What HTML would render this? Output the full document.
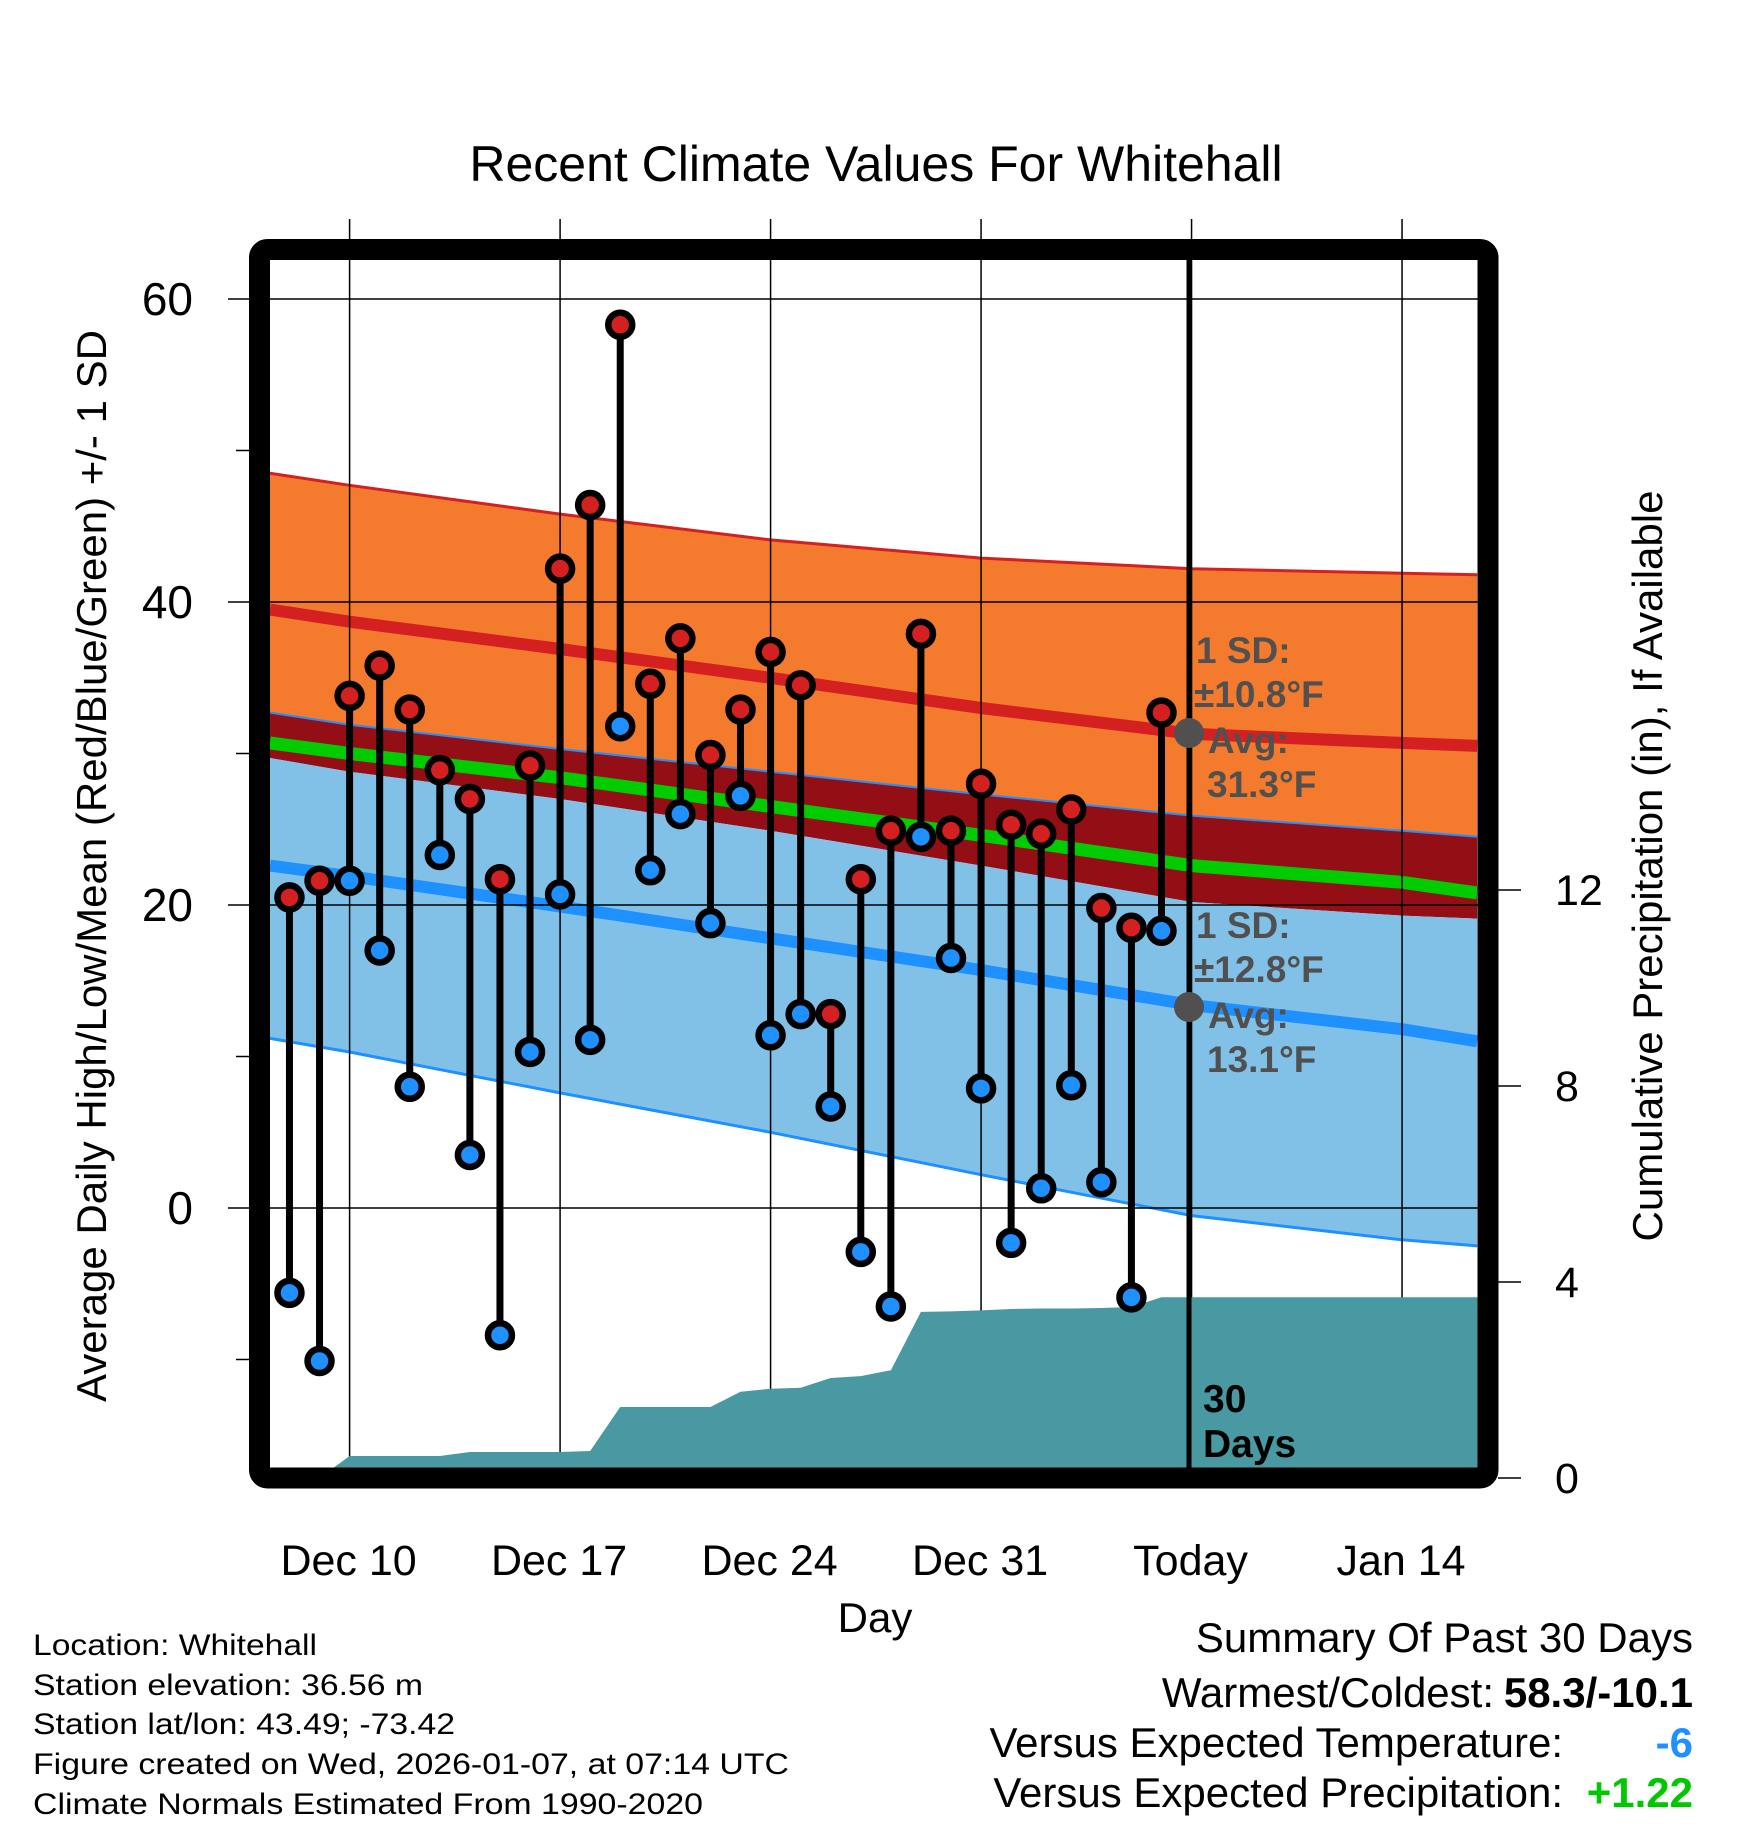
<!DOCTYPE html>
<html><head><meta charset="utf-8"><style>
html,body{margin:0;padding:0;background:#fff;}
svg{display:block;font-family:"Liberation Sans",Arial,sans-serif;}
</style></head><body>
<svg id="chart" width="1748" height="1828" viewBox="0 0 1748 1828" xmlns="http://www.w3.org/2000/svg">
<defs><clipPath id="plotClip"><rect x="270" y="260" width="1208" height="1208"/></clipPath></defs>
<rect x="0" y="0" width="1748" height="1828" fill="#fff"/>
<text x="876" y="181" font-size="50" text-anchor="middle">Recent Climate Values For Whitehall</text>
<g id="bands" clip-path="url(#plotClip)"></g>
<g id="grid"></g>
<g id="precip" clip-path="url(#plotClip)"></g>
<g id="marks"></g>
<g id="frame"></g>
<g id="axes"></g>
<g font-size="30">
<text x="33" y="1655" textLength="284" lengthAdjust="spacingAndGlyphs">Location: Whitehall</text>
<text x="33" y="1695" textLength="390" lengthAdjust="spacingAndGlyphs">Station elevation: 36.56 m</text>
<text x="33" y="1734" textLength="422" lengthAdjust="spacingAndGlyphs">Station lat/lon: 43.49; -73.42</text>
<text x="33" y="1774" textLength="756" lengthAdjust="spacingAndGlyphs">Figure created on Wed, 2026-01-07, at 07:14 UTC</text>
<text x="33" y="1814" textLength="670" lengthAdjust="spacingAndGlyphs">Climate Normals Estimated From 1990-2020</text>
</g>
<g font-size="42">
<text x="1693" y="1652" text-anchor="end">Summary Of Past 30 Days</text>
<text x="1494" y="1707" text-anchor="end">Warmest/Coldest:</text>
<text x="1693" y="1707" text-anchor="end" font-weight="bold">58.3/-10.1</text>
<text x="1563" y="1757" text-anchor="end">Versus Expected Temperature:</text>
<text x="1693" y="1757" text-anchor="end" font-weight="bold" fill="#1e90ff">-6</text>
<text x="1563" y="1807" text-anchor="end">Versus Expected Precipitation:</text>
<text x="1693" y="1807" text-anchor="end" font-weight="bold" fill="#00c800">+1.22</text>
</g>
</svg>
<script>
// ---- data ----
const dayOffsets = [-2,-1,0,1,2,3,4,5,6,7,8,9,10,11,12,13,14,15,16,17,18,19,20,21,22,23,24,25,26,27];
const highs = [20.5,21.6,33.8,35.8,32.9,28.9,27.0,21.7,29.2,42.2,46.4,58.3,34.6,37.6,29.9,32.9,36.7,34.5,12.8,21.7,24.9,37.9,24.9,28.0,25.3,24.7,26.3,19.8,18.5,32.7];
const lows  = [-5.6,-10.1,21.6,17.0,8.0,23.3,3.5,-8.4,10.3,20.7,11.1,31.8,22.3,26.0,18.8,27.2,11.4,12.8,6.7,-2.9,-6.5,24.5,16.5,7.9,-2.3,1.3,8.1,1.7,-5.9,18.3];
const precipCum = [0,0,0.45,0.45,0.45,0.45,0.53,0.53,0.53,0.53,0.55,1.45,1.45,1.45,1.45,1.76,1.82,1.84,2.04,2.08,2.2,3.39,3.4,3.42,3.45,3.46,3.46,3.47,3.49,3.69];
const normDays   = [-2.65,0,7,14,21,28,35,37.5];
const highUpper  = [48.5,47.7,45.8,44.1,42.9,42.2,41.9,41.8];
const highMean   = [39.5,38.7,36.9,35.0,33.0,31.3,30.7,30.5];
const highLower  = [32.7,31.9,30.3,28.8,27.3,25.9,24.9,24.5];
const meanTemp   = [30.7,30.0,28.4,26.5,24.6,22.6,21.5,20.8];
const lowUpper   = [29.7,28.8,27.0,24.9,22.6,20.2,19.3,19.1];
const lowMean    = [22.6,21.9,19.9,17.8,15.7,13.4,11.8,11.0];
const lowLower   = [11.2,10.3,7.6,5.0,2.2,-0.5,-2.1,-2.5];
const xTickDays  = [0,7,14,21,28,35];
const xTickLabels= ["Dec 10","Dec 17","Dec 24","Dec 31","Today","Jan 14"];
const yTicks     = [60,40,20,0];
const yMinorTicks= [50,30,10,-10];
const y2Ticks    = [0,4,8,12];

// ---- scales ----
const X = d => 349.6 + d*30.07;
const Y = t => 1208 - t*15.15;
const Y2 = p => 1478 - p*49;
const NS="http://www.w3.org/2000/svg";
function mk(tag, attrs, parent){const e=document.createElementNS(NS,tag);for(const k in attrs)e.setAttribute(k,attrs[k]);parent.appendChild(e);return e;}
const bands=document.getElementById('bands'),grid=document.getElementById('grid'),precip=document.getElementById('precip'),marks=document.getElementById('marks'),frame=document.getElementById('frame'),axes=document.getElementById('axes');
const pts=(arr)=>normDays.map((d,i)=>X(d).toFixed(1)+','+Y(arr[i]).toFixed(1));
function band(top,bot,fill,name){const p=pts(top).concat(pts(bot).reverse()).join(' ');const e=mk('polygon',{points:p,fill:fill},bands);

}
function line(arr,color,w,name){const e=mk('polyline',{points:pts(arr).join(' '),fill:'none',stroke:color,'stroke-width':w,'stroke-linejoin':'round'},bands);

}
band(highUpper,highLower,'#f47a2e','high-sd-band');
band(highLower,lowUpper,'#930e15','overlap-band');
band(lowUpper,lowLower,'#82c1e7','low-sd-band');
line(highUpper,'#d42020',3,'high-upper-line');
line(highLower,'#1e90ff',2,'high-lower-line');
line(lowLower,'#1e90ff',3,'low-lower-line');
line(highMean,'#d42020',12,'normal-high-line');
line(meanTemp,'#00cc00',13,'normal-mean-line');
line(lowMean,'#1e90ff',12,'normal-low-line');

// grid
yTicks.forEach(t=>{const e=mk('line',{x1:228,x2:1478,y1:Y(t),y2:Y(t),stroke:'#000','stroke-width':1.5},grid);

});
yMinorTicks.forEach(t=>{const e=mk('line',{x1:236,x2:260,y1:Y(t),y2:Y(t),stroke:'#000','stroke-width':1.5},grid);

});
xTickDays.forEach(d=>{const e=mk('line',{x1:X(d),x2:X(d),y1:219,y2:1468,stroke:'#000','stroke-width':1.5},grid);

});

// precip
let pp=[X(dayOffsets[0])+','+Y2(0)];
dayOffsets.forEach((d,i)=>pp.push(X(d).toFixed(1)+','+Y2(precipCum[i]).toFixed(1)));
pp.push('1480,'+Y2(precipCum[precipCum.length-1]).toFixed(1));
pp.push('1480,1480');pp.push(X(dayOffsets[0])+',1480');
const pe=mk('polygon',{points:pp.join(' '),fill:'#4899a1'},precip);



// today line
const tl=mk('line',{x1:1189,x2:1189,y1:260,y2:1468,stroke:'#000','stroke-width':5},marks);



// stems
dayOffsets.forEach((d,i)=>{const e=mk('line',{x1:X(d),x2:X(d),y1:Y(highs[i]),y2:Y(lows[i]),stroke:'#000','stroke-width':7},marks);

});
dayOffsets.forEach((d,i)=>{
const h=mk('circle',{cx:X(d),cy:Y(highs[i]),r:12,fill:'#d42020',stroke:'#000','stroke-width':6.5},marks);


const l=mk('circle',{cx:X(d),cy:Y(lows[i]),r:12,fill:'#1e90ff',stroke:'#000','stroke-width':6.5},marks);


});

// annotations
function txt(x,y,s,attrs,name,parent){const e=mk('text',Object.assign({x:x,y:y},attrs),parent||marks);e.textContent=s;

return e;}
const ga={'font-size':37,'font-weight':'bold',fill:'#505050'};
const d1=mk('circle',{cx:1189,cy:733,r:15,fill:'#505050'},marks);


const d2=mk('circle',{cx:1189,cy:1007,r:15,fill:'#505050'},marks);


txt(1196,663,'1 SD:',ga,'high-sd-label');
txt(1194,707,'±10.8°F',ga,'high-sd-value');
txt(1208,753,'Avg:',ga,'high-avg-label');
txt(1207,797,'31.3°F',ga,'high-avg-value');
txt(1196,938,'1 SD:',ga,'low-sd-label');
txt(1194,982,'±12.8°F',ga,'low-sd-value');
txt(1208,1028,'Avg:',ga,'low-avg-label');
txt(1207,1072,'13.1°F',ga,'low-avg-value');
txt(1203,1412,'30',{'font-size':39,'font-weight':'bold'},'window-days-number');
txt(1203,1457,'Days',{'font-size':39,'font-weight':'bold'},'window-days-label');

// frame
const fr=mk('rect',{x:259.5,y:249.5,width:1228.5,height:1228.5,rx:8,fill:'none',stroke:'#000','stroke-width':21},frame);



// axes labels
yTicks.forEach(t=>txt(193,Y(t)+16,String(t),{'font-size':46,'text-anchor':'end'},'y-tick-label',axes));
y2Ticks.forEach(p=>{const e=mk('line',{x1:1498,x2:1521,y1:Y2(p),y2:Y2(p),stroke:'#000','stroke-width':1.5},axes);


txt(1555,Y2(p)+15,String(p),{'font-size':43},'y2-tick-label',axes);});
xTickDays.forEach((d,i)=>txt(X(d)-1,1575,xTickLabels[i],{'font-size':43,'text-anchor':'middle'},'x-tick-label',axes));
txt(875,1632,'Day',{'font-size':42,'text-anchor':'middle'},'x-axis-title',axes);
txt(0,0,'Average Daily High/Low/Mean (Red/Blue/Green) +/- 1 SD',{'font-size':42,'text-anchor':'middle',transform:'translate(106,866) rotate(-90)'},'y-axis-title',axes);
txt(0,0,'Cumulative Precipitation (in), If Available',{'font-size':42,'text-anchor':'middle',transform:'translate(1662,866) rotate(-90)'},'y2-axis-title',axes);
</script>
</body></html>
